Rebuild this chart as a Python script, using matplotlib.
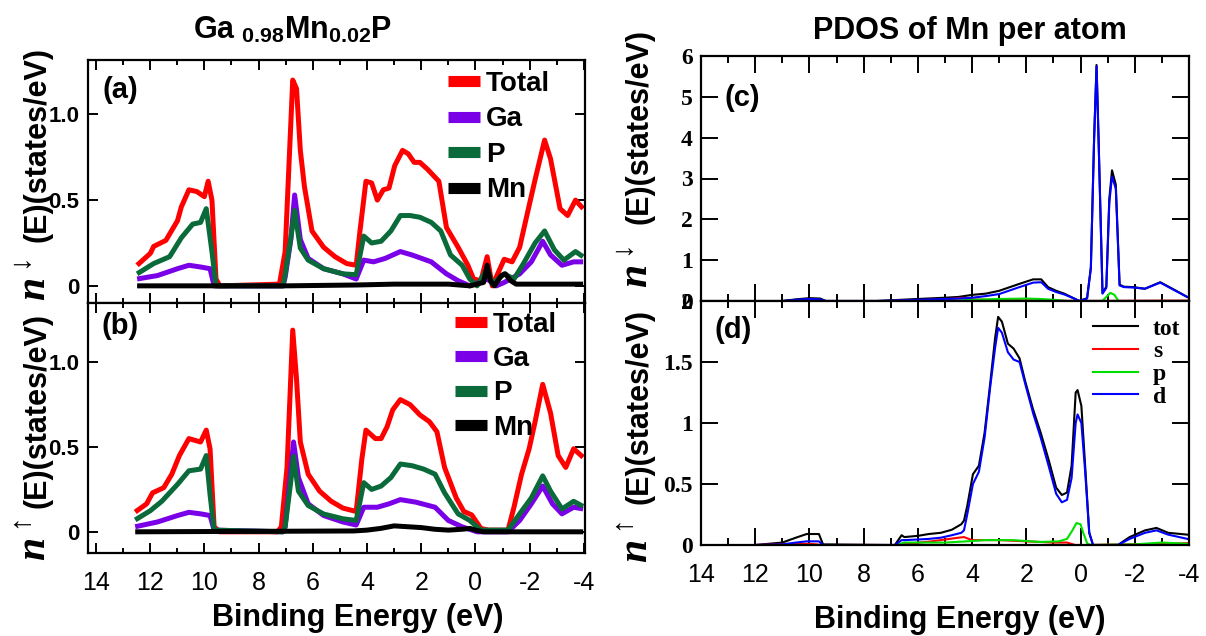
import numpy as np
import matplotlib
matplotlib.use("Agg")
import matplotlib.pyplot as plt
from matplotlib.ticker import MultipleLocator, FixedLocator, FuncFormatter

plt.rcParams["font.family"] = ["Liberation Sans", "DejaVu Sans"]
plt.rcParams["mathtext.fontset"] = "custom"
plt.rcParams["mathtext.it"] = "Liberation Serif:italic:bold"
plt.rcParams["mathtext.sf"] = "Liberation Sans:bold"
plt.rcParams["mathtext.rm"] = "Liberation Sans:bold"
plt.rcParams["axes.unicode_minus"] = False

W, H = 1206, 636

# ---- panel (a): spin down, Ga0.98Mn0.02P ----
a_tot_e = [12.48, 11.99, 11.87, 11.42, 10.99, 10.85, 10.57, 10.28, 10.0, 9.86, 9.72, 9.57, 9.43,
           7.23, 7.02, 6.88, 6.74, 6.6, 6.46, 6.31, 6.03, 5.6, 5.18, 4.75, 4.4, 4.26, 4.04, 3.83,
           3.62, 3.4, 3.19, 2.98, 2.69, 2.48, 2.26, 2.05, 1.77, 1.35, 1.07, 0.64, 0.28, 0.07, -0.2,
           -0.43, -0.62, -1.06, -1.35, -1.63, -1.91, -2.2, -2.55, -2.77, -3.12, -3.4, -3.69, -3.97]
a_tot_v = [0.12, 0.19, 0.23, 0.265, 0.38, 0.46, 0.56, 0.55, 0.52, 0.61, 0.5, 0.04, 0.0,
           0.01, 0.2, 0.7, 1.2, 1.15, 0.79, 0.58, 0.32, 0.225, 0.17, 0.13, 0.12, 0.32, 0.61, 0.6,
           0.5, 0.56, 0.57, 0.7, 0.79, 0.77, 0.72, 0.72, 0.68, 0.61, 0.34, 0.225, 0.12, 0.04, 0.03,
           0.17, 0.0, 0.155, 0.14, 0.225, 0.42, 0.62, 0.85, 0.74, 0.45, 0.41, 0.5, 0.45]
a_ga_e = [12.48, 11.73, 10.99, 10.57, 10.14, 9.79, 9.64, 7.1, 7.02, 6.81, 6.67, 6.46, 6.17, 5.6,
          4.89, 4.4, 4.12, 3.76, 3.33, 2.77, 2.34, 1.63, 1.07, 0.64, 0.21, -0.43, -0.77, -1.06,
          -1.63, -2.06, -2.48, -2.77, -3.19, -3.62, -3.97]
a_ga_v = [0.04, 0.06, 0.1, 0.12, 0.11, 0.1, 0.0, 0.0, 0.05, 0.27, 0.53, 0.27, 0.16, 0.1,
          0.07, 0.04, 0.15, 0.14, 0.16, 0.2, 0.18, 0.14, 0.07, 0.03, 0.0, 0.04, 0.0, 0.02,
          0.07, 0.14, 0.26, 0.18, 0.12, 0.14, 0.14]
a_p_e = [12.48, 11.87, 11.28, 10.85, 10.43, 10.14, 9.93, 9.72, 9.57, 7.1, 7.02, 6.81, 6.67, 6.46,
         6.17, 5.6, 4.89, 4.4, 4.12, 3.83, 3.48, 3.12, 2.77, 2.41, 2.05, 1.63, 1.28, 0.92, 0.49,
         0.21, -0.06, -0.43, -0.62, -1.06, -1.42, -1.77, -2.2, -2.55, -2.91, -3.26, -3.69, -3.97]
a_p_v = [0.07, 0.13, 0.17, 0.28, 0.36, 0.37, 0.45, 0.2, 0.0, 0.0, 0.07, 0.28, 0.44, 0.22,
         0.15, 0.1, 0.07, 0.065, 0.29, 0.25, 0.26, 0.32, 0.41, 0.41, 0.4, 0.37, 0.32, 0.18, 0.12,
         0.04, 0.0, 0.1, 0.01, 0.07, 0.04, 0.13, 0.25, 0.32, 0.21, 0.15, 0.2, 0.17]
a_mn_e = [12.48, 9.6, 7.0, 4.4, 3.0, 1.0, 0.2, -0.3, -0.43, -0.55, -0.7, -0.95, -1.1, -1.3,
          -1.5, -2.5, -3.97]
a_mn_v = [0.0, 0.0, 0.0, 0.005, 0.01, 0.01, 0.0, 0.02, 0.12, 0.03, 0.0, 0.06, 0.07, 0.03,
          0.01, 0.01, 0.01]

# ---- panel (b): spin up ----
b_tot_e = [12.55, 12.13, 11.91, 11.5, 11.2, 10.92, 10.57, 10.14, 9.93, 9.79, 9.64, 9.43, 7.3,
           7.16, 6.95, 6.74, 6.6, 6.46, 6.17, 5.75, 5.32, 4.89, 4.4, 4.19, 4.04, 3.69, 3.48, 3.26,
           3.05, 2.77, 2.41, 2.05, 1.7, 1.42, 1.14, 0.71, 0.43, 0.14, -0.2, -0.48, -1.2, -1.42,
           -1.7, -1.98, -2.2, -2.48, -2.77, -3.05, -3.33, -3.62, -3.97]
b_tot_v = [0.117, 0.165, 0.23, 0.26, 0.34, 0.45, 0.55, 0.53, 0.6, 0.49, 0.03, 0.0, 0.0,
           0.03, 0.38, 1.19, 0.9, 0.53, 0.34, 0.24, 0.18, 0.14, 0.12, 0.43, 0.6, 0.55, 0.55, 0.62,
           0.72, 0.78, 0.75, 0.69, 0.65, 0.59, 0.38, 0.2, 0.12, 0.1, 0.02, 0.01, 0.01, 0.145,
           0.34, 0.49, 0.65, 0.87, 0.7, 0.45, 0.38, 0.49, 0.44]
b_ga_e = [12.55, 11.73, 10.99, 10.57, 10.14, 9.79, 9.64, 7.1, 7.02, 6.88, 6.71, 6.53, 6.17, 5.6,
          4.89, 4.4, 4.12, 3.62, 3.19, 2.77, 2.2, 1.49, 1.0, 0.5, -0.06, -1.2, -1.63, -2.06,
          -2.48, -2.84, -3.19, -3.62, -3.97]
b_ga_v = [0.03, 0.058, 0.096, 0.115, 0.106, 0.096, 0.01, 0.0, 0.03, 0.26, 0.53, 0.32, 0.165, 0.096,
          0.058, 0.04, 0.145, 0.145, 0.165, 0.19, 0.175, 0.145, 0.067, 0.03, 0.0, 0.0, 0.067, 0.165,
          0.27, 0.165, 0.106, 0.145, 0.135]
b_p_e = [12.55, 11.99, 11.57, 10.99, 10.57, 10.14, 9.93, 9.79, 9.64, 7.1, 7.02, 6.81, 6.71, 6.53,
         6.17, 5.6, 4.89, 4.4, 4.12, 3.83, 3.48, 3.12, 2.77, 2.34, 1.91, 1.49, 1.14, 0.64, 0.21,
         -0.2, -1.2, -1.63, -2.06, -2.48, -2.77, -3.19, -3.62, -3.97]
b_p_v = [0.07, 0.125, 0.18, 0.28, 0.36, 0.37, 0.45, 0.22, 0.01, 0.0, 0.03, 0.3, 0.445, 0.24,
         0.155, 0.105, 0.077, 0.067, 0.29, 0.25, 0.27, 0.32, 0.4, 0.39, 0.37, 0.34, 0.23, 0.106, 0.067,
         0.01, 0.01, 0.106, 0.2, 0.33, 0.24, 0.135, 0.18, 0.15]
b_mn_e = [12.55, 4.5, 4.0, 3.5, 3.0, 2.5, 2.0, 1.5, 1.0, 0.5, 0.2, 0.0, -0.3, -3.97]
b_mn_v = [0.0, 0.005, 0.01, 0.02, 0.035, 0.03, 0.025, 0.015, 0.01, 0.015, 0.02, 0.01, 0.0, 0.0]

# ---- panel (c): Mn PDOS spin down ----
c_e = [11.0, 10.5, 10.0, 9.6, 9.4, 7.5, 6.0, 5.0, 4.5, 4.0, 3.5, 3.0, 2.3, 1.75, 1.45, 1.2, 0.9,
       0.6, 0.2, 0.05, -0.24, -0.38, -0.5, -0.59, -0.66, -0.81, -0.95, -1.06, -1.16, -1.3, -1.44,
       -1.6, -1.95, -2.37, -2.94, -3.5, -3.93]
c_tot = [0.0, 0.04, 0.07, 0.06, 0.0, 0.0, 0.05, 0.08, 0.1, 0.15, 0.18, 0.25, 0.41, 0.53, 0.53, 0.34,
         0.25, 0.18, 0.05, 0.0, 0.07, 0.82, 4.0, 5.78, 4.1, 0.2, 0.35, 2.5, 3.2, 2.85, 0.4, 0.35,
         0.34, 0.3, 0.46, 0.26, 0.1]
c_d = [0.0, 0.03, 0.05, 0.04, 0.0, 0.0, 0.03, 0.05, 0.06, 0.08, 0.12, 0.17, 0.33, 0.45, 0.46, 0.3,
       0.22, 0.16, 0.05, 0.0, 0.06, 0.8, 3.95, 5.75, 4.05, 0.18, 0.32, 2.4, 3.05, 2.75, 0.38, 0.34,
       0.33, 0.3, 0.45, 0.25, 0.1]
c_p_e = [7.0, 4.5, 4.0, 3.0, 2.0, 1.5, 1.0, 0.5, -0.8, -0.95, -1.1, -1.25, -1.4, -3.97]
c_p = [0.0, 0.01, 0.03, 0.05, 0.06, 0.05, 0.03, 0.0, 0.0, 0.1, 0.2, 0.15, 0.0, 0.0]
c_s_e = [7.0, 6.0, 5.0, 4.3, 4.0, 3.0, 0.0, -3.97]
c_s = [0.0, 0.02, 0.04, 0.08, 0.04, 0.02, 0.0, 0.01]

# ---- panel (d): Mn PDOS spin up ----
d_e = [12.0, 11.0, 10.5, 10.1, 9.65, 9.5, 7.0, 6.85, 6.6, 6.5, 6.0, 5.6, 5.15, 4.75, 4.4, 4.3,
       4.18, 3.97, 3.75, 3.54, 3.33, 3.15, 3.04, 2.9, 2.68, 2.47, 2.25, 2.04, 1.75, 1.47, 1.18,
       0.9, 0.69, 0.5, 0.33, 0.18, 0.11, -0.03, -0.17, -0.32, -0.46, -1.38, -1.81, -2.38, -2.8,
       -3.23, -3.94]
d_tot = [0.0, 0.02, 0.06, 0.09, 0.09, 0.005, 0.0, 0.0, 0.08, 0.065, 0.075, 0.09, 0.1, 0.125, 0.17,
         0.2, 0.32, 0.58, 0.65, 0.92, 1.33, 1.7, 1.87, 1.83, 1.65, 1.61, 1.53, 1.34, 1.11, 0.92,
         0.7, 0.47, 0.41, 0.43, 0.65, 1.25, 1.27, 1.14, 0.65, 0.1, 0.0, 0.0, 0.065, 0.12, 0.14,
         0.1, 0.085]
d_d = [0.0, 0.005, 0.02, 0.03, 0.03, 0.0, 0.0, 0.0, 0.04, 0.04, 0.045, 0.05, 0.06, 0.08, 0.1,
       0.12, 0.25, 0.5, 0.6, 0.88, 1.3, 1.62, 1.78, 1.74, 1.58, 1.52, 1.5, 1.32, 1.08, 0.88,
       0.65, 0.42, 0.35, 0.37, 0.55, 1.0, 1.07, 1.0, 0.6, 0.1, 0.0, 0.0, 0.05, 0.1, 0.12,
       0.085, 0.05]
d_p_e = [6.8, 6.5, 5.0, 4.2, 3.5, 2.5, 1.5, 0.8, 0.5, 0.3, 0.15, 0.0, -0.1, -0.25, -0.4, -2.0,
         -3.0, -3.97]
d_p = [0.0, 0.02, 0.02, 0.03, 0.04, 0.04, 0.025, 0.03, 0.05, 0.12, 0.18, 0.17, 0.1, 0.01, 0.0,
       0.005, 0.02, 0.01]
d_s_e = [12.0, 10.0, 9.5, 6.8, 5.5, 4.5, 4.3, 4.0, 3.0, 2.0, 1.0, 0.5, 0.2, -0.3, -3.0, -3.97]
d_s = [0.0, 0.01, 0.0, 0.0, 0.03, 0.06, 0.065, 0.04, 0.04, 0.03, 0.02, 0.02, 0.0, 0.0, 0.01, 0.015]

left_names = ["Total", "Ga", "P", "Mn"]
left_colors = ["#ff0000", "#7a00e8", "#0a6a3a", "#000000"]
right_names = ["tot", "s", "p", "d"]
right_colors = ["#000000", "#ff0000", "#00e000", "#0000ff"]
x_ticks = [14, 12, 10, 8, 6, 4, 2, 0, -2, -4]


def box(left, top, right, bottom):
    return [left / W, 1 - bottom / H, (right - left) / W, (bottom - top) / H]


def style_left(ax, ylim, show_x):
    ax.set_xlim(14.31, -4.04)
    ax.set_ylim(*ylim)
    ax.xaxis.set_major_locator(FixedLocator(x_ticks))
    ax.xaxis.set_minor_locator(MultipleLocator(1))
    ax.set_yticks([0, 0.5, 1.0])
    ax.set_yticklabels(["0", "0.5", "1.0"])
    ax.tick_params(which="both", direction="in", top=True, right=True, width=1.4)
    ax.tick_params(which="major", length=7)
    ax.tick_params(which="minor", length=3.5)
    ax.tick_params(axis="y", labelsize=16, pad=6)
    ax.tick_params(axis="x", labelsize=18, pad=13, labelbottom=show_x)
    for lab in ax.get_yticklabels():
        lab.set_fontweight("bold")
    for s in ax.spines.values():
        s.set_linewidth(1.6)


def style_right(ax, ylim, yticks, show_x):
    ax.set_xlim(14, -4)
    ax.set_ylim(*ylim)
    ax.xaxis.set_major_locator(FixedLocator(x_ticks))
    ax.xaxis.set_minor_locator(MultipleLocator(1))
    ax.yaxis.set_major_locator(FixedLocator(yticks))
    ax.yaxis.set_major_formatter(FuncFormatter(lambda v, p: "%g" % v))
    ax.tick_params(which="both", direction="in", top=True, right=True, width=1.4)
    ax.tick_params(which="major", length=12)
    ax.tick_params(which="minor", length=5)
    ax.tick_params(axis="y", labelsize=17, pad=6)
    ax.tick_params(axis="x", labelsize=18, pad=13, labelbottom=show_x)
    for lab in ax.get_yticklabels():
        lab.set_fontfamily("Liberation Serif")
        lab.set_fontweight("bold")
    for s in ax.spines.values():
        s.set_linewidth(1.6)


def left_legend(ax, anchor, spacing):
    leg = ax.legend(loc="upper left", bbox_to_anchor=anchor, frameon=False, borderpad=0,
                    borderaxespad=0, handlelength=1.15, handletextpad=0.22, labelspacing=spacing,
                    prop={"size": 20, "weight": "bold"})
    for ln in leg.get_lines():
        ln.set_linewidth(8)
        ln.set_solid_capstyle("butt")


def main():
    fig = plt.figure(figsize=(W / 100, H / 100), dpi=100)

    ax_a = fig.add_axes(box(87.5, 60, 585, 303))
    ax_b = fig.add_axes(box(87.5, 303, 585, 553))
    ax_c = fig.add_axes(box(701, 56, 1189, 301))
    ax_d = fig.add_axes(box(701, 301, 1189, 545))

    lw = 3.6
    a_series = [(a_tot_e, a_tot_v), (a_ga_e, a_ga_v), (a_p_e, a_p_v), (a_mn_e, a_mn_v)]
    b_series = [(b_tot_e, b_tot_v), (b_ga_e, b_ga_v), (b_p_e, b_p_v), (b_mn_e, b_mn_v)]
    for (e, v), name, col in zip(a_series, left_names, left_colors):
        ax_a.plot(e, v, color=col, lw=lw, label=name, solid_capstyle="butt")
    for (e, v), name, col in zip(b_series, left_names, left_colors):
        ax_b.plot(e, v, color=col, lw=lw, label=name, solid_capstyle="butt")

    style_left(ax_a, (-0.1, 1.317), False)
    style_left(ax_b, (-0.125, 1.35), True)
    left_legend(ax_a, (0.725, 0.955), 0.34)
    left_legend(ax_b, (0.739, 0.965), 0.3)

    c_series = [(c_e, c_tot), (c_s_e, c_s), (c_p_e, c_p), (c_e, c_d)]
    d_series = [(d_e, d_tot), (d_s_e, d_s), (d_p_e, d_p), (d_e, d_d)]
    for (e, v), name, col in zip(c_series, right_names, right_colors):
        ax_c.plot(e, v, color=col, lw=1.5, label=name)
    for (e, v), name, col in zip(d_series, right_names, right_colors):
        ax_d.plot(e, v, color=col, lw=1.5, label=name)

    style_right(ax_c, (0, 6), [0, 1, 2, 3, 4, 5, 6], False)
    style_right(ax_d, (0, 2), [0, 0.5, 1, 1.5, 2], True)
    ax_d.legend(loc="upper left", bbox_to_anchor=(0.803, 0.93), frameon=False, borderpad=0,
                borderaxespad=0, handlelength=1.9, handletextpad=0.64, labelspacing=0.05,
                prop={"family": "Liberation Serif", "size": 17, "weight": "bold"})

    # titles, labels and panel tags
    def ftext(x, y, s, **kw):
        kw.setdefault("va", "center")
        fig.text(x / W, 1 - y / H, s, ha="center", fontweight="bold", **kw)

    ftext(293, 30, r"$\mathsf{Ga\ }_{\mathsf{0.98}}\mathsf{Mn}_{\mathsf{0.02}}\mathsf{P}$", fontsize=22)
    ftext(970, 31, "PDOS of Mn per atom", fontsize=22)
    ftext(358, 626, "Binding Energy (eV)", fontsize=22, va="baseline")
    ftext(960, 628, "Binding Energy (eV)", fontsize=22, va="baseline")

    # y labels: the n with spin arrow is drawn apart, larger, below the unit text
    n_dn = r"$n^{\downarrow}$"
    n_up = r"$n^{\uparrow}$"
    unit = "(E)(states/eV)"
    ftext(38, 145, unit, fontsize=22, rotation=90)
    ftext(35, 280, n_dn, fontsize=30, rotation=90)
    ftext(38, 410, unit, fontsize=22, rotation=90)
    ftext(35, 540, n_up, fontsize=30, rotation=90)
    ftext(640, 126, unit, fontsize=22, rotation=90)
    ftext(637, 267, n_dn, fontsize=30, rotation=90)
    ftext(640, 406, unit, fontsize=22, rotation=90)
    ftext(637, 542, n_up, fontsize=30, rotation=90)

    ftext(120, 90, "(a)", fontsize=21)
    ftext(120, 326, "(b)", fontsize=21)
    ftext(742, 98, "(c)", fontsize=21)
    ftext(733, 330, "(d)", fontsize=21)

    fig.savefig("out.png", dpi=100)


if __name__ == "__main__":
    main()
